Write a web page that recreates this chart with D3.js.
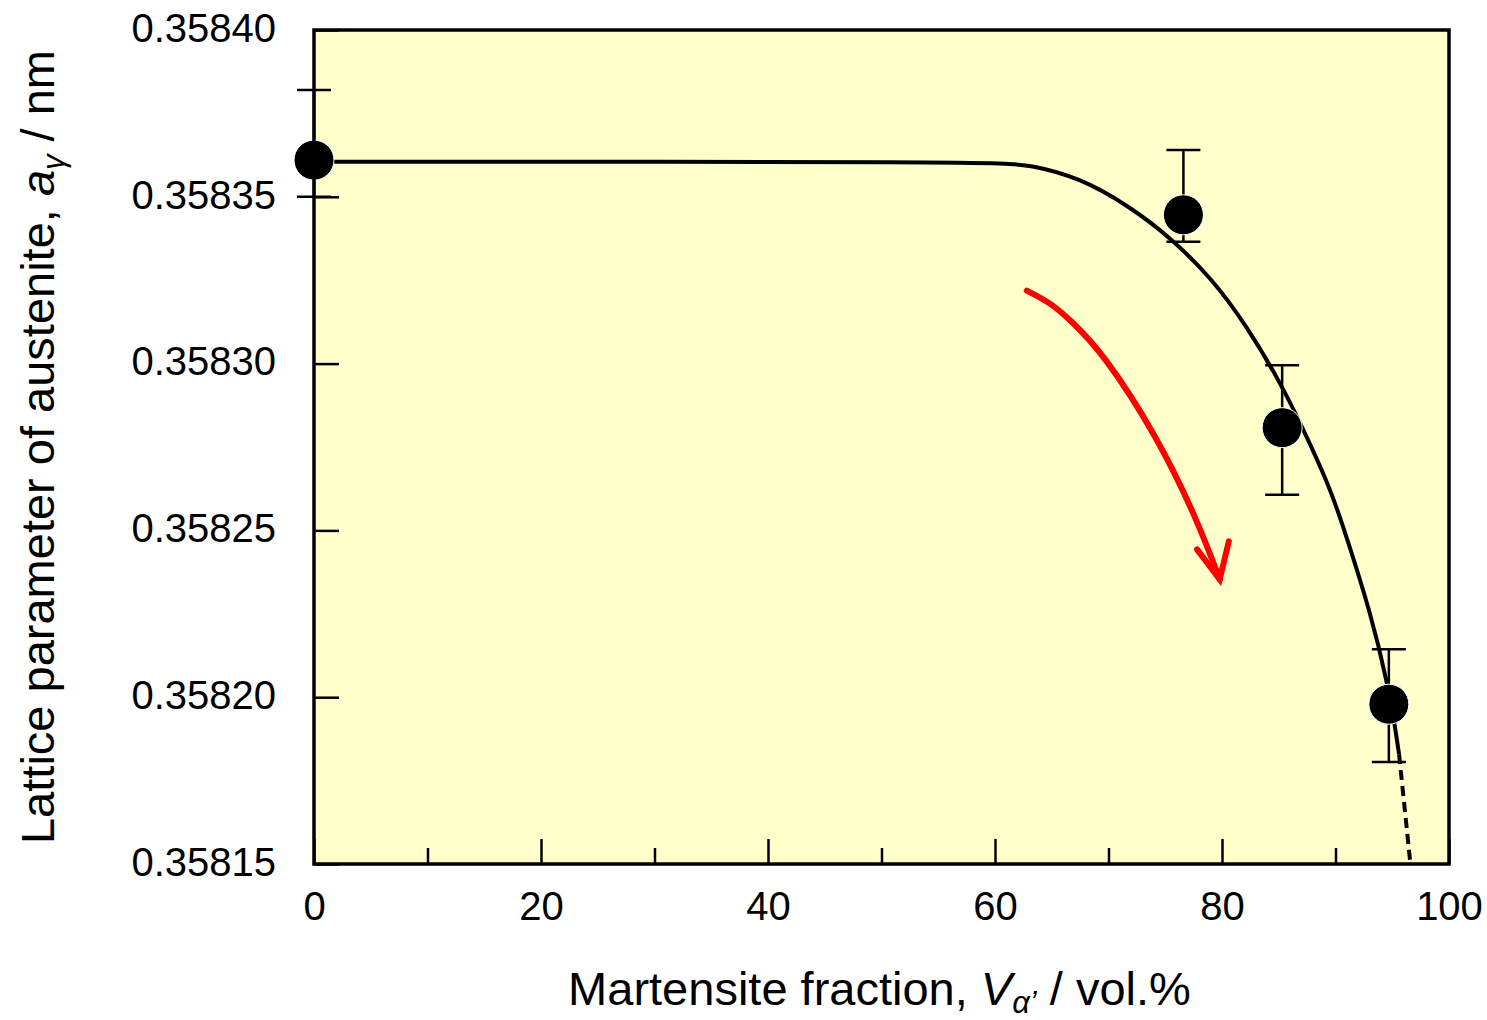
<!DOCTYPE html>
<html>
<head>
<meta charset="utf-8">
<script src="https://cdn.jsdelivr.net/npm/d3@7"></script>
<style>
  body { margin: 0; background: #fff; }
  text { font-family: "Liberation Sans", Arial, sans-serif; fill: #000; }
</style>
</head>
<body>
<div id="chart"></div>
<script>
// measured points (martensite fraction vs. lattice parameter)
var fraction = [0, 76.6, 85.3, 94.7];
var latticeParam = [0.358361, 0.3583446, 0.3582808, 0.3581979];
var errLow = [0.35835, 0.3583365, 0.3582607, 0.3581806];
var errHigh = [0.358382, 0.358364, 0.3582995, 0.3582144];

// fitted line (solid part)
var fitX = [0, 60, 63.1, 67.5, 71.9, 75.4, 79.2, 82.2, 85.1, 87.1, 89.3, 90.4, 93.2, 94.6, 95.2, 95.6];
var fitY = [0.3583605, 0.3583605, 0.3583596, 0.3583557, 0.358347, 0.358338, 0.3583252, 0.3583111,
    0.3582946, 0.3582808, 0.3582644, 0.3582542, 0.3582243, 0.3582036, 0.3581922, 0.3581829];
// extrapolated (dashed) part
var dashX = [95.6, 96.1, 96.6];
var dashY = [0.3581829, 0.3581665, 0.35815];

// red arrow annotation
var arrowX = [62.8, 64.85, 66.6, 69.5, 74.3, 77.8, 79.8];
var arrowY = [0.3583219, 0.3583183, 0.3583132, 0.3583033, 0.3582781, 0.3582533, 0.3582353];
var arrowHeadX = [77.8, 79.8, 80.6];
var arrowHeadY = [0.3582443, 0.3582353, 0.3582467];

var xMajor = [0, 20, 40, 60, 80, 100];
var xMinor = [10, 30, 50, 70, 90];
var yTicks = [0.35815, 0.35820, 0.35825, 0.35830, 0.35835, 0.35840];

var margin = { left: 314, right: 38, top: 30, bottom: 156 };
var width = 1487 - margin.left - margin.right;
var height = 1020 - margin.top - margin.bottom;

var svg = d3.select("#chart")
    .append("svg")
    .attr("width", 1487)
    .attr("height", 1020);

var g = svg.append("g")
    .attr("transform", "translate(" + margin.left + ", " + margin.top + ")");

var x = d3.scaleLinear().domain([0, 100]).range([0, width]);
var y = d3.scaleLinear().domain([0.35815, 0.35840]).range([height, 0]);

// plot background
g.append("rect")
    .attr("width", width)
    .attr("height", height)
    .attr("fill", "#ffffcc");

// x axis, ticks pointing inward
g.append("g")
    .attr("transform", "translate(0, " + height + ")")
    .call(d3.axisBottom(x).tickValues(xMajor).tickSize(-25).tickPadding(28)
        .tickFormat(d3.format("d")));
g.append("g")
    .attr("transform", "translate(0, " + height + ")")
    .call(d3.axisBottom(x).tickValues(xMinor).tickSize(-16).tickFormat(""));

// y axis
var yAxis = g.append("g")
    .call(d3.axisLeft(y).tickValues(yTicks).tickSize(-25).tickPadding(38)
        .tickFormat(d3.format(".5f")));

g.selectAll(".domain").remove();
g.selectAll(".tick line").attr("stroke", "#000").attr("stroke-width", 2.5);
g.selectAll(".tick text")
    .attr("font-size", "40px")
    .attr("font-family", "Liberation Sans, Arial, sans-serif")
    .attr("fill", "#000");
yAxis.selectAll(".tick text").attr("dy", "0.28em");

// fitted curve
var line = d3.line()
    .x(function(d) { return x(d[0]); })
    .y(function(d) { return y(d[1]); })
    .curve(d3.curveBasis);

g.append("path")
    .datum(d3.zip(fitX, fitY))
    .attr("d", line)
    .attr("fill", "none")
    .attr("stroke", "#000")
    .attr("stroke-width", 4);

g.append("path")
    .datum(d3.zip(dashX, dashY))
    .attr("d", line)
    .attr("fill", "none")
    .attr("stroke", "#000")
    .attr("stroke-width", 4)
    .attr("stroke-dasharray", "10,6");

// error bars
var pts = fraction.map(function(f, i) {
    return { f: f, a: latticeParam[i], lo: errLow[i], hi: errHigh[i] };
});

var eb = g.selectAll(".err")
    .data(pts)
    .enter()
    .append("g")
    .attr("class", "err")
    .attr("stroke", "#000")
    .attr("stroke-width", 2.5);

eb.append("line")
    .attr("x1", function(d) { return x(d.f); })
    .attr("x2", function(d) { return x(d.f); })
    .attr("y1", function(d) { return y(d.lo); })
    .attr("y2", function(d) { return y(d.hi); });
eb.append("line")
    .attr("x1", function(d) { return x(d.f) - 17; })
    .attr("x2", function(d) { return x(d.f) + 17; })
    .attr("y1", function(d) { return y(d.hi); })
    .attr("y2", function(d) { return y(d.hi); });
eb.append("line")
    .attr("x1", function(d) { return x(d.f) - 17; })
    .attr("x2", function(d) { return x(d.f) + 17; })
    .attr("y1", function(d) { return y(d.lo); })
    .attr("y2", function(d) { return y(d.lo); });

// markers
g.selectAll(".pt")
    .data(pts)
    .enter()
    .append("circle")
    .attr("class", "pt")
    .attr("cx", function(d) { return x(d.f); })
    .attr("cy", function(d) { return y(d.a); })
    .attr("r", 20)
    .attr("fill", "#000")
    .attr("stroke", "#fff")
    .attr("stroke-width", 1);

// red arrow
g.append("path")
    .datum(d3.zip(arrowX, arrowY))
    .attr("d", d3.line()
        .x(function(d) { return x(d[0]); })
        .y(function(d) { return y(d[1]); })
        .curve(d3.curveBasis))
    .attr("fill", "none")
    .attr("stroke", "#ff0000")
    .attr("stroke-width", 6)
    .attr("stroke-linecap", "round");

g.append("path")
    .datum(d3.zip(arrowHeadX, arrowHeadY))
    .attr("d", d3.line()
        .x(function(d) { return x(d[0]); })
        .y(function(d) { return y(d[1]); }))
    .attr("fill", "none")
    .attr("stroke", "#ff0000")
    .attr("stroke-width", 6)
    .attr("stroke-linecap", "round")
    .attr("stroke-linejoin", "miter");

// frame
g.append("rect")
    .attr("width", width)
    .attr("height", height)
    .attr("fill", "none")
    .attr("stroke", "#000")
    .attr("stroke-width", 3.5);

// x label
var xl = svg.append("text")
    .attr("x", margin.left + width / 2 - 2)
    .attr("y", 1005)
    .attr("font-size", "47px")
    .attr("text-anchor", "middle");
xl.append("tspan").text("Martensite fraction,  ");
xl.append("tspan").attr("font-style", "italic").text("V");
xl.append("tspan").attr("font-style", "italic").attr("font-size", "31px")
    .attr("dy", "8").text("\u03b1\u2019");
xl.append("tspan").attr("dy", "-8").text(" / vol.%");

// y label
var yl = svg.append("text")
    .attr("transform", "translate(54, " + (margin.top + height / 2) + ") rotate(-90)")
    .attr("font-size", "47px")
    .attr("text-anchor", "middle");
yl.append("tspan").text("Lattice parameter of austenite,  ");
yl.append("tspan").attr("font-style", "italic").text("a");
yl.append("tspan").attr("font-style", "italic").attr("font-size", "31px")
    .attr("dy", "10").text("\u03b3");
yl.append("tspan").attr("dy", "-10").text(" / nm");
</script>
</body>
</html>
